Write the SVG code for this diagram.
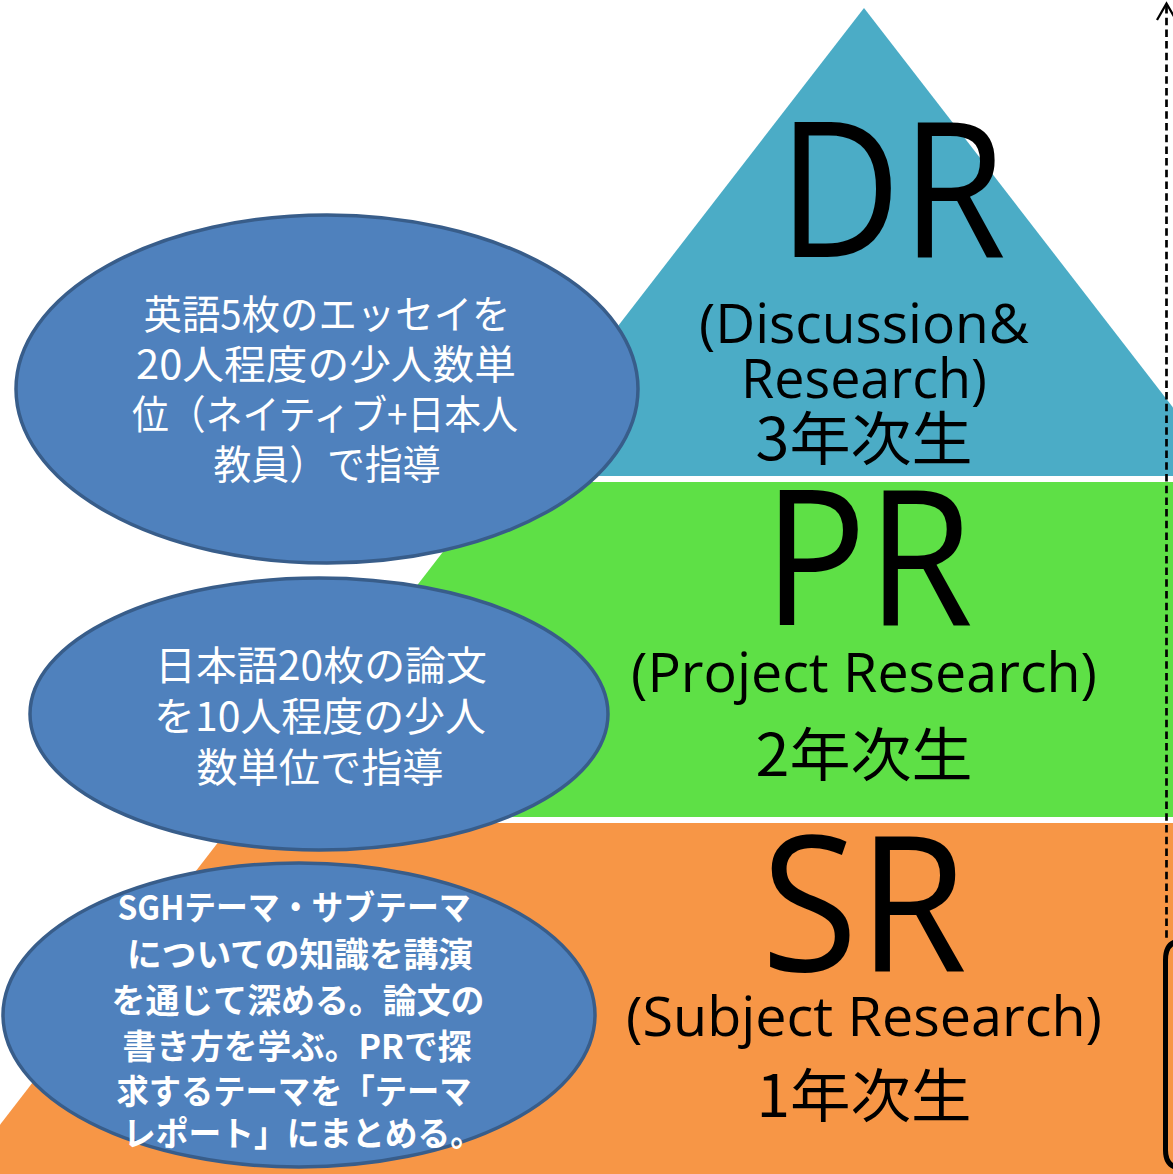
<svg xmlns="http://www.w3.org/2000/svg" width="1173" height="1174" viewBox="0 0 1173 1174">
  <defs>
    <style>
      .lat { font-family: "Open Sans", "Noto Sans", "Liberation Sans", sans-serif; fill: #000; text-anchor: middle; }
      .jp { font-family: "Noto Sans CJK JP", "Noto Sans", sans-serif; fill: #000; text-anchor: middle; dominant-baseline: central; }
      .big { font-size: 188px; }
      .mid { font-size: 54px; }
      .yr { font-size: 58px; }
      .ell { fill: #4F81BD; stroke: #385D8A; stroke-width: 3.5; }
      .et { font-family: "Noto Sans CJK JP", "Noto Sans", sans-serif; fill: #FFFFFF; text-anchor: middle; dominant-baseline: central; font-size: 40px; }
      .eb { font-size: 34px; font-weight: bold; }
      .conn { fill: none; stroke: #000; }
    </style>
  </defs>
  <rect x="0" y="0" width="1173" height="1174" fill="#FFFFFF"/>

  <g id="layer-dr">
    <polygon points="864,8 1226,476 502,476" fill="#4BACC6"/>
    <text class="lat big" x="892" y="257" textLength="228" lengthAdjust="spacingAndGlyphs">DR</text>
    <text class="lat mid" x="864" y="343" textLength="330" lengthAdjust="spacingAndGlyphs">(Discussion&amp;</text>
    <text class="lat mid" x="864" y="398" textLength="246" lengthAdjust="spacingAndGlyphs">Research)</text>
    <text class="jp yr" x="864" y="435" textLength="217" lengthAdjust="spacingAndGlyphs">3年次生</text>
  </g>

  <g id="layer-pr">
    <polygon points="497,482 1231,482 1490,817 238,817" fill="#5EE046"/>
    <text class="lat big" x="868" y="625" textLength="210" lengthAdjust="spacingAndGlyphs">PR</text>
    <text class="lat mid" x="864" y="692" textLength="466" lengthAdjust="spacingAndGlyphs">(Project Research)</text>
    <text class="jp yr" x="864" y="751" textLength="217" lengthAdjust="spacingAndGlyphs">2年次生</text>
  </g>

  <g id="layer-sr">
    <polygon points="233,823 1495,823 1766,1174 -38,1174" fill="#F79646"/>
    <text class="lat big" x="864" y="971" textLength="206" lengthAdjust="spacingAndGlyphs">SR</text>
    <text class="lat mid" x="864" y="1036" textLength="476" lengthAdjust="spacingAndGlyphs">(Subject Research)</text>
    <text class="jp yr" x="864" y="1092" textLength="215" lengthAdjust="spacingAndGlyphs">1年次生</text>
  </g>

  <g id="connectors">
    <line class="conn" x1="1166.5" y1="6" x2="1166.5" y2="940" stroke-width="2.7" stroke-dasharray="7.5 4.2"/>
    <polyline class="conn" points="1157,20 1166.5,3.5 1176,20" stroke-width="2.3"/>
    <path class="conn" d="M 1182 941 Q 1165.5 941 1165.5 960 L 1165.5 1150 Q 1165.5 1168 1182 1168" stroke-width="5"/>
  </g>

  <g id="note-dr">
    <ellipse class="ell" cx="327" cy="389" rx="311" ry="174"/>
    <text class="et" x="327" y="312" textLength="367" lengthAdjust="spacingAndGlyphs">英語5枚のエッセイを</text>
    <text class="et" x="326" y="362" textLength="380" lengthAdjust="spacingAndGlyphs">20人程度の少人数単</text>
    <text class="et" x="325" y="412" textLength="386" lengthAdjust="spacingAndGlyphs">位（ネイティブ+日本人</text>
    <text class="et" x="327" y="462" textLength="227" lengthAdjust="spacingAndGlyphs">教員）で指導</text>
  </g>

  <g id="note-pr">
    <ellipse class="ell" cx="319" cy="714" rx="289" ry="136"/>
    <text class="et" x="321" y="663" textLength="332" lengthAdjust="spacingAndGlyphs">日本語20枚の論文</text>
    <text class="et" x="320" y="714" textLength="332" lengthAdjust="spacingAndGlyphs">を10人程度の少人</text>
    <text class="et" x="320" y="765" textLength="247" lengthAdjust="spacingAndGlyphs">数単位で指導</text>
  </g>

  <g id="note-sr">
    <ellipse class="ell" cx="299" cy="1015" rx="296" ry="152"/>
    <text class="et eb" x="294" y="905" textLength="353" lengthAdjust="spacingAndGlyphs">SGHテーマ・サブテーマ</text>
    <text class="et eb" x="300" y="952" textLength="346" lengthAdjust="spacingAndGlyphs">についての知識を講演</text>
    <text class="et eb" x="298" y="998" textLength="373" lengthAdjust="spacingAndGlyphs">を通じて深める。論文の</text>
    <text class="et eb" x="297" y="1044" textLength="349" lengthAdjust="spacingAndGlyphs">書き方を学ぶ。PRで探</text>
    <text class="et eb" x="294" y="1089" textLength="355" lengthAdjust="spacingAndGlyphs">求するテーマを「テーマ</text>
    <text class="et eb" x="303" y="1131" textLength="360" lengthAdjust="spacingAndGlyphs">レポート」にまとめる。</text>
  </g>
</svg>
